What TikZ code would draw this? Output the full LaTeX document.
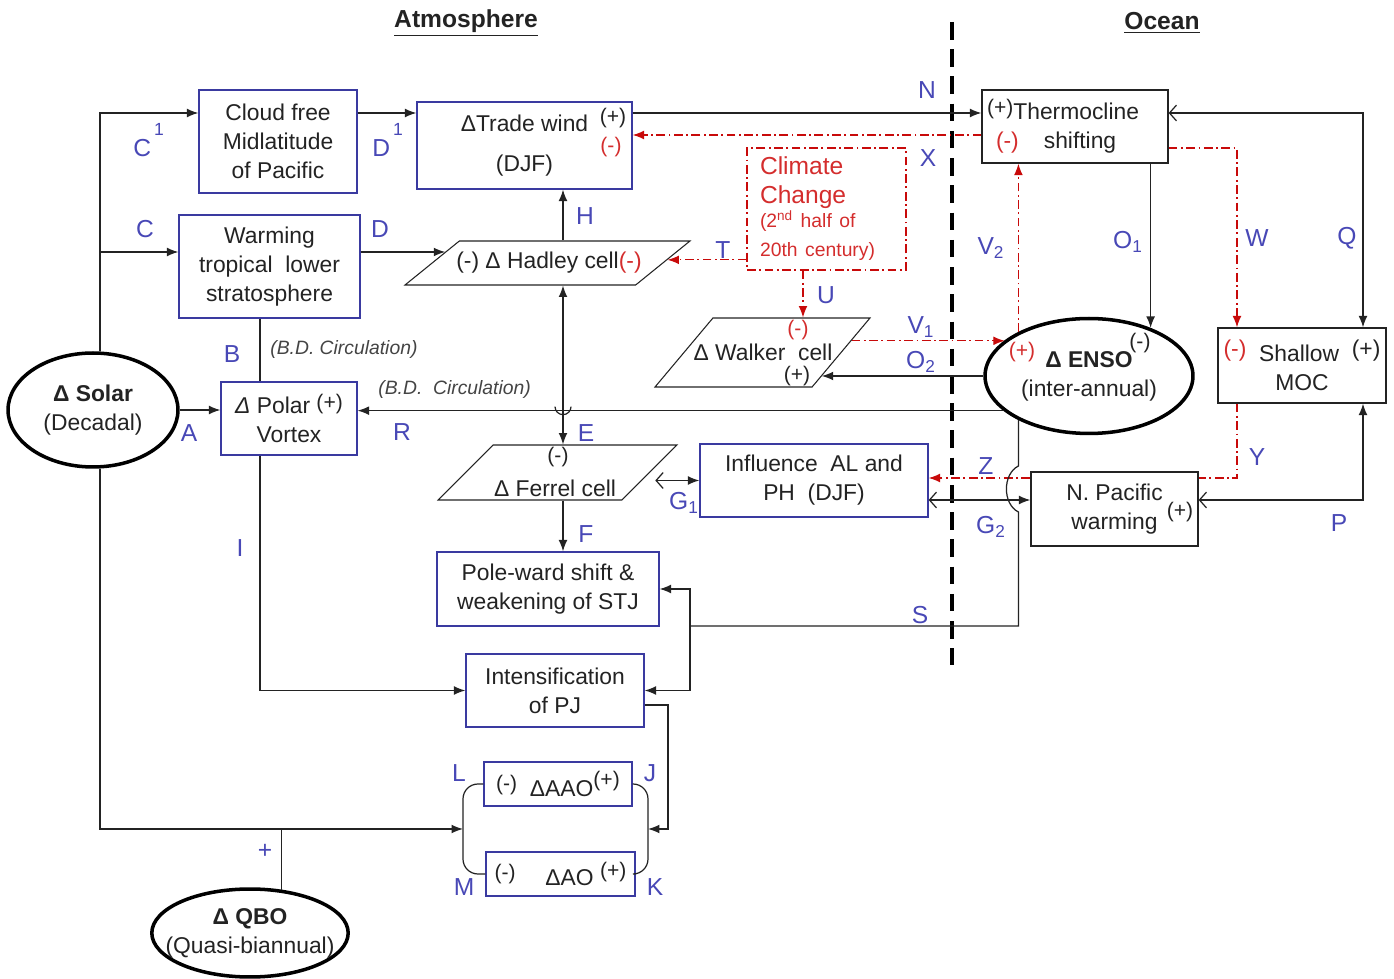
\documentclass[tikz,border=0pt]{standalone}
\usepackage{fontspec}
\setmainfont{Liberation Sans}
\usepackage{tikz}
\usetikzlibrary{calc,positioning,shapes,arrows,arrows.meta,fit,backgrounds}

\definecolor{boxblue}{RGB}{58,58,160}
\definecolor{lblblue}{RGB}{72,72,182}
\definecolor{ccred}{RGB}{212,45,45}
\definecolor{ddred}{RGB}{200,10,10}
\definecolor{ink}{RGB}{35,35,35}

\newcommand{\smallsgn}[1]{{\fontsize{12}{12}\selectfont #1}}

\tikzset{
	head/.style={font=\bfseries\fontsize{14}{14}\selectfont,inner sep=0pt,text=ink},
	divider/.style={line width=2.2pt,dash pattern=on 10pt off 5.5pt},
	bbox/.style={draw=boxblue,line width=0.75pt,fill=white,align=center,inner sep=0pt,text=ink},
	kbox/.style={draw=ink,line width=0.75pt,fill=white,align=center,inner sep=0pt,text=ink},
	ccbox/.style={draw=ddred,line width=0.6pt,dash pattern=on 5pt off 2pt on 1pt off 2pt,align=left,inner ysep=0pt,inner xsep=0.26cm,text=ccred},
	oval/.style={shape=ellipse,draw=black,line width=2pt,fill=white,align=center,inner sep=0pt,text=ink},
	para/.style={shape=trapezium,trapezium stretches body=true,draw=ink,line width=0.6pt,fill=white,inner sep=0pt,text=ink},
	cell/.style={inner sep=0pt,text=ink},
	lbl/.style={text=lblblue,font=\fontsize{14}{14}\selectfont,inner sep=0pt},
	sgn/.style={font=\fontsize{12}{12}\selectfont,inner sep=0pt,text=ink},
	rsgn/.style={sgn,text=ccred},
	note/.style={font=\itshape\fontsize{11}{11}\selectfont,text=ink!85,inner sep=0pt,anchor=west},
	link/.style={draw=ink,line width=0.7pt},
	ccline/.style={draw=ddred,line width=0.7pt,dash pattern=on 5pt off 2pt on 1pt off 2pt},
	arr/.style={-{Latex[length=6.5pt,width=5pt]}},
	barr/.style={{Latex[length=6.5pt,width=5pt]}-{Latex[length=6.5pt,width=5pt]}},
	oarr/.style={{Straight Barb[length=4pt,width=9pt]}-{Latex[length=6.5pt,width=5pt]}},
}

\begin{document}
\begin{tikzpicture}[x=0.02cm,y=-0.02cm,font=\fontsize{13}{16.5}\selectfont]
	\useasboundingbox (0,0) rectangle (1394,979);

	% headings and the atmosphere / ocean divide
	\node (atm) [head] at (466,23) {\underline{Atmosphere}};
	\node (ocn) [head] at (1162,23) {\underline{Ocean}};
	\coordinate (divT) at (952,22);
	\coordinate (divB) at (952,665);
	\draw[divider] (divT) -- (divB);

	% forcings
	\node (solar) [oval,minimum width=3.4cm,minimum height=2.28cm] at (93,410) {\textbf{Δ Solar}\\(Decadal)};
	\node (qbo) [oval,inner xsep=-0.3cm,minimum width=3.92cm,minimum height=1.76cm] at (250,933) {\textbf{Δ QBO}\\(Quasi-biannual)};
	\node (enso) [oval,minimum width=4.16cm,minimum height=2.3cm] at (1089,376) {\textbf{Δ ENSO}\\(inter-annual)};
	\node (ensoP) [rsgn] at (1022,352) {(+)};
	\node (ensoM) [sgn] at (1140,343) {(-)};

	% atmosphere boxes
	\node (cloud) [bbox,minimum width=3.16cm,minimum height=2.06cm] at (278,141.5) {Cloud free\\Midlatitude\\of Pacific};
	\node (warm) [bbox,minimum width=3.62cm,minimum height=2.06cm] at (269.5,266.5) {Warming\\tropical\ \ lower\\stratosphere};
	\node (trade) [bbox,minimum width=4.3cm,minimum height=1.74cm] at (524.5,145.5) {ΔTrade wind\\[0.22cm](DJF)};
	\node (tradeP) [sgn] at (613,118) {(+)};
	\node (tradeM) [rsgn] at (611,147) {(-)};
	\node (polar) [bbox,minimum width=2.72cm,minimum height=1.46cm] at (289,418.5) {{\itshape Δ} Polar \raisebox{0.3ex}{\smallsgn{(+)}}\\Vortex};
	\node (influ) [bbox,minimum width=4.56cm,minimum height=1.46cm] at (814,480.5) {Influence\ \ AL and\\PH\ \ (DJF)};
	\node (pole) [bbox,minimum width=4.44cm,minimum height=1.48cm] at (548,589) {Pole-ward shift \&\\weakening of STJ};
	\node (intens) [bbox,minimum width=3.56cm,minimum height=1.46cm] at (555,690.5) {Intensification\\of PJ};
	\node (aao) [bbox,minimum width=2.96cm,minimum height=0.88cm] at (558,784) {\raisebox{0.5ex}{\smallsgn{(-)}}\ \ ΔAAO\raisebox{0.8ex}{\smallsgn{(+)}}};
	\node (ao) [bbox,minimum width=2.98cm,minimum height=0.88cm] at (560.5,874) {\raisebox{0.5ex}{\smallsgn{(-)}}\hspace{1.3em}ΔAO\ \raisebox{0.6ex}{\smallsgn{(+)}}};

	% circulation cells
	\node (hadley) [para,trapezium left angle=39,trapezium right angle=141,minimum width=5.7cm,text height=0.44cm,text depth=0.44cm] at (547.5,263) {};
	\node (hadleyT) [cell] at (549,263) {(-) Δ Hadley cell\textcolor{ccred}{(-)}};
	\node (walker) [para,trapezium left angle=50,trapezium right angle=130,minimum width=4.3cm,text height=0.69cm,text depth=0.69cm] at (762.5,352.5) {};
	\node (walkerT) [cell] at (763,352) {Δ Walker\ \ cell};
	\node (walkerM) [rsgn] at (798,330) {(-)};
	\node (walkerP) [sgn] at (797,376) {(+)};
	\node (ferrel) [para,trapezium left angle=45,trapezium right angle=135,minimum width=4.78cm,text height=0.55cm,text depth=0.55cm] at (557.5,472.5) {};
	\node (ferrelM) [sgn] at (558,457) {(-)};
	\node (ferrelT) [cell] at (555,488) {Δ Ferrel cell};

	% climate change
	\node (climate) [ccbox,minimum width=3.18cm,minimum height=2.44cm,text width=2.66cm] at (826.5,209)
		{\fontsize{14}{16.5}\selectfont Climate\\Change\par\fontsize{11}{13.7}\selectfont(2\textsuperscript{nd} half of\\20th century)};

	% ocean boxes
	\node (thermo) [kbox,minimum width=3.72cm,minimum height=1.46cm,text width=3.52cm,align=left] at (1075,126.5)
		{\raisebox{0.4ex}{\smallsgn{(+)}}Thermocline\\\hspace{0.18cm}\textcolor{ccred}{(-)}\hspace{0.5cm}shifting};
	\node (moc) [kbox,minimum width=3.36cm,minimum height=1.5cm] at (1302,365.5)
		{\textcolor{ccred}{\raisebox{0.4ex}{(-)}}\ \ Shallow\ \ \raisebox{0.4ex}{(+)}\\MOC};
	\node (npac) [kbox,minimum width=3.34cm,minimum height=1.48cm] at (1114.5,509) {N. Pacific\\warming\hspace{0.7cm}};
	\node (npacP) [sgn] at (1180,512) {(+)};

	% notes
	\node (bd1) [note] at (270,350) {(B.D. Circulation)};
	\node (bd2) [note] at (378,390) {(B.D.\ \ Circulation)};

	% helper rows, columns and edge points
	\coordinate (yN) at (0,113);
	\coordinate (yX) at (0,135);
	\coordinate (yW) at (0,148);
	\coordinate (yD) at (0,252);
	\coordinate (yZ) at (0,478);
	\coordinate (yG) at (0,500);
	\coordinate (yS) at (0,626);
	\coordinate (hopS1) at (0,466);
	\coordinate (hopS2) at (0,512);
	\coordinate (xSol) at (100,0);
	\coordinate (xB) at (260,0);
	\coordinate (xE) at (563,0);
	\coordinate (xJ) at (668,0);
	\coordinate (xS) at (690,0);
	\coordinate (xU) at (803,0);
	\coordinate (xW) at (1237,0);
	\coordinate (xQ) at (1363,0);
	\coordinate (brL) at (463,829);
	\coordinate (brR) at (648,829);
	\coordinate (hD) at ($(hadley.bottom left corner)!0.75!(hadley.top left corner)$);
	\coordinate (hT) at ($(hadley.bottom right corner)!0.57!(hadley.top right corner)$);
	\coordinate (wO2) at ($(walker.bottom right corner)!0.16!(walker.top right corner)$);
	\coordinate (wV1) at ($(walker.bottom right corner)!0.667!(walker.top right corner)$);
	\coordinate (fG) at ($(ferrel.bottom right corner)!0.59!(ferrel.top right corner)$);
	\coordinate (sTop) at (enso.212);

	% solar and qbo pathways
	\draw[link,arr] (xSol |- solar.north) |- (cloud.west |- yN);
	\draw[link,arr] (xSol |- yD) -- (warm.west |- yD);
	\draw[link,arr] (cloud.east |- yN) -- (trade.west |- yN);
	\draw[link,arr] (warm.east |- yD) -- (hD |- yD);
	\draw[link] (warm.south -| xB) -- (polar.north -| xB);
	\draw[link,arr] (solar.east) -- (solar.east -| polar.west);
	\draw[link,arr] (polar.south -| xB) |- (intens.west);
	\draw[link,arr] (xSol |- solar.south) |- (brL);
	\draw[link] (qbo.54) -- (qbo.54 |- brL);

	% atmosphere
	\draw[link,arr] (hadley.north -| xE) -- (trade.south -| xE);
	\draw[link,barr] (hadley.south -| xE) -- (ferrel.north -| xE);
	\draw[link] ($(xE |- enso.202)+(-8,-4)$) arc (180:0:8);
	\draw[link,arr] (ferrel.south -| xE) -- (pole.north -| xE);
	\draw[link,oarr] (fG |- influ.west) -- (influ.west);
	\draw[link,arr] ([yshift=-0.29cm]intens.east) -| (xJ |- brR) -- (brR);
	\draw[link,rounded corners=0.3cm] (aao.west) -| (brL) |- (ao.west);
	\draw[link,rounded corners=0.3cm] (aao.east) -| (brR) |- (ao.east);

	% climate change and ocean coupling
	\draw[link,arr] (trade.east |- yN) -- (thermo.west |- yN);
	\draw[ccline,arr] (thermo.west |- yX) -- (trade.east |- yX);
	\draw[ccline,arr] (climate.west |- hT) -- (hT);
	\draw[ccline,arr] (climate.south -| xU) -- (walker.north -| xU);
	\draw[ccline,arr] (wV1) -- (enso.157 |- wV1);
	\draw[ccline,arr] (enso.148) -- (enso.148 |- thermo.south);
	\draw[link,arr] (thermo.south -| enso.38) -- (enso.38);
	\draw[link,arr] (enso.west) -- (wO2 |- enso.west);
	\draw[link,arr] (enso.202) -- (polar.east |- enso.202);
	\draw[ccline,arr] (thermo.east |- yW) -| (moc.north -| xW);
	\draw[link,oarr] (thermo.east |- yN) -| (moc.north -| xQ);
	\draw[link,oarr] (npac.east |- yG) -| (moc.south -| xQ);
	\draw[link,oarr] (influ.east |- yG) -- (npac.west |- yG);
	\draw[link] (sTop) -- (sTop |- hopS1) .. controls +(-16,8) and +(-16,-8) .. (sTop |- hopS2) -- (sTop |- yS) -- (xS |- yS);
	\draw[link,arr] (xS |- yS) |- (pole.east);
	\draw[link,arr] (xS |- yS) |- (intens.east);
	\begin{scope}[on background layer]
		\draw[ccline,arr] (moc.south -| xW) |- (influ.east |- yZ);
	\end{scope}

	% link labels
	\node (lC1) [lbl,anchor=base west] at (133,157) {C\raisebox{12pt}{\fontsize{10}{10}\selectfont\,1}};
	\node (lD1) [lbl,anchor=base west] at (372,157) {D\raisebox{12pt}{\fontsize{10}{10}\selectfont\,1}};
	\node (lC) [lbl] at (145,229) {C};
	\node (lD) [lbl] at (380,229) {D};
	\node (lB) [lbl] at (232,354) {B};
	\node (lA) [lbl] at (189,433) {A};
	\node (lR) [lbl] at (402,432) {R};
	\node (lI) [lbl] at (240,548) {I};
	\node (lH) [lbl] at (585,216) {H};
	\node (lE) [lbl] at (586,433) {E};
	\node (lF) [lbl] at (586,534) {F};
	\node (lG1) [lbl] at (684,503) {G\textsubscript{1}};
	\node (lT) [lbl] at (723,250) {T};
	\node (lU) [lbl] at (826,295) {U};
	\node (lN) [lbl] at (927,90) {N};
	\node (lX) [lbl] at (928,158) {X};
	\node (lV1) [lbl] at (921,327) {V\textsubscript{1}};
	\node (lO2) [lbl] at (921,362) {O\textsubscript{2}};
	\node (lV2) [lbl] at (991,248) {V\textsubscript{2}};
	\node (lO1) [lbl] at (1128,242) {O\textsubscript{1}};
	\node (lW) [lbl] at (1257,238) {W};
	\node (lQ) [lbl] at (1347,238) {Q};
	\node (lY) [lbl] at (1257,457) {Y};
	\node (lZ) [lbl] at (986,466) {Z};
	\node (lG2) [lbl] at (991,527) {G\textsubscript{2}};
	\node (lP) [lbl] at (1339,523) {P};
	\node (lS) [lbl] at (920,615) {S};
	\node (lL) [lbl] at (459,773) {L};
	\node (lJ) [lbl] at (650,773) {J};
	\node (lM) [lbl] at (464,887) {M};
	\node (lK) [lbl] at (655,887) {K};
	\node (lPlus) [lbl] at (265,851) {+};
\end{tikzpicture}
\end{document}
